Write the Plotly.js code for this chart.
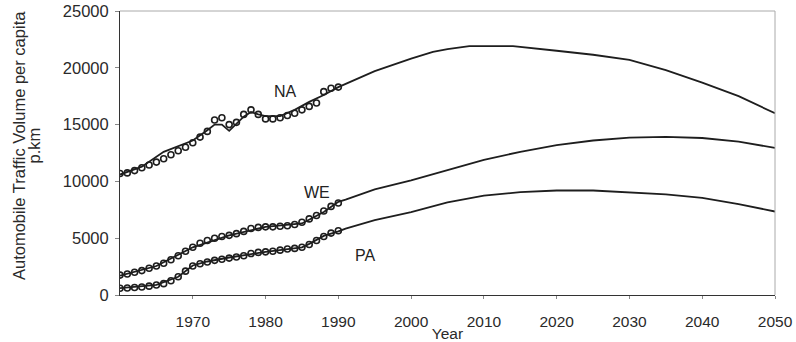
<!DOCTYPE html>
<html>
<head>
<meta charset="utf-8">
<script src="https://cdn.plot.ly/plotly-3.0.1.min.js"></script>
<style>html,body{margin:0;padding:0;background:#fff;}#chart{width:796px;height:342px;}</style>
</head>
<body>
<div id="chart"></div>
<script>
// Observed years
const obsYears = [1960,1961,1962,1963,1964,1965,1966,1967,1968,1969,1970,1971,1972,1973,1974,1975,1976,1977,1978,1979,1980,1981,1982,1983,1984,1985,1986,1987,1988,1989,1990];
const naObs = [10700,10750,10950,11200,11450,11700,12000,12350,12700,13000,13400,13900,14400,15400,15600,15000,15200,15900,16300,15900,15500,15500,15600,15800,16000,16300,16600,16900,17900,18200,18300];
const weObs = [1750,1850,2000,2150,2350,2550,2800,3100,3450,3850,4200,4550,4800,5000,5150,5250,5400,5600,5850,5950,6000,6000,6050,6100,6200,6400,6700,7000,7400,7800,8100];
const paObs = [600,620,660,700,780,880,1000,1250,1600,2100,2550,2750,2900,3050,3150,3250,3350,3450,3650,3750,3800,3850,3950,4050,4100,4200,4450,4800,5150,5450,5650];

// Model curves
const naModelYears = [1960,1963,1966,1970,1972,1973,1974,1975,1977,1978,1979,1980,1982,1984,1986,1988,1990,1995,2000,2003,2005,2008,2010,2014,2020,2025,2030,2035,2040,2045,2050];
const naModel = [10600,11300,12600,13600,14500,15000,15000,14450,15700,16100,15900,15750,15750,16300,17000,17600,18300,19700,20800,21400,21650,21900,21900,21900,21500,21150,20700,19800,18700,17500,16000];
const weModelYears = [1960,1965,1970,1975,1980,1985,1988,1990,1991,1995,2000,2005,2010,2015,2020,2025,2030,2035,2040,2045,2050];
const weModel = [1700,2550,4200,5250,6000,6300,7300,8200,8400,9300,10100,11000,11900,12600,13200,13600,13850,13920,13820,13500,12950];
const paModelYears = [1960,1965,1968,1970,1972,1975,1980,1985,1986,1988,1990,1991,1995,2000,2005,2010,2015,2020,2025,2030,2035,2040,2045,2050];
const paModel = [600,900,1600,2600,2950,3300,3800,4200,4500,5200,5600,5850,6600,7300,8150,8750,9050,9200,9200,9050,8850,8550,8000,7350];

// Series labels
const labelText = ["NA","WE","PA"];
const labelX = [1982.8,1987.1,1993.7];
const labelY = [17900,9000,3500];

const xTicks = [1970,1980,1990,2000,2010,2020,2030,2040,2050];
const yTicks = [0,5000,10000,15000,20000,25000];

const FONT = 'Liberation Sans, Arial, sans-serif';
const lineStyle = {color:'#1e1e1e', width:1.8};
const markerStyle = {symbol:'circle-open', size:6, color:'#1e1e1e', line:{width:1.6, color:'#1e1e1e'}};

const traces = [
  {x:naModelYears, y:naModel, mode:'lines', line:lineStyle, hoverinfo:'skip'},
  {x:weModelYears, y:weModel, mode:'lines', line:lineStyle, hoverinfo:'skip'},
  {x:paModelYears, y:paModel, mode:'lines', line:lineStyle, hoverinfo:'skip'},
  {x:obsYears, y:naObs, mode:'markers', marker:markerStyle},
  {x:obsYears, y:weObs, mode:'markers', marker:markerStyle},
  {x:obsYears, y:paObs, mode:'markers', marker:markerStyle}
];

const annotations = labelText.map((t,i)=>({
  x:labelX[i], y:labelY[i], xref:'x', yref:'y', text:t, showarrow:false,
  font:{family:FONT, size:16, color:'#222'}
}));
annotations.push({
  xref:'paper', yref:'paper', x:-0.154, y:0.525, xanchor:'center', yanchor:'middle',
  text:'Automobile Traffic Volume per capita', textangle:-90, showarrow:false,
  font:{family:FONT, size:16.5, color:'#2a2a2a'}
});
annotations.push({
  xref:'paper', yref:'paper', x:-0.132, y:0.525, xanchor:'center', yanchor:'middle',
  text:'p.km', textangle:-90, showarrow:false,
  font:{family:FONT, size:16.5, color:'#2a2a2a'}
});

const layout = {
  width:796, height:342,
  margin:{l:120, r:21, t:11, b:47},
  paper_bgcolor:'#fff', plot_bgcolor:'#fff',
  showlegend:false,
  font:{family:FONT, size:16, color:'#2a2a2a'},
  xaxis:{
    range:[1960,2050], tickvals:xTicks, ticktext:xTicks.map(String),
    showgrid:false, zeroline:false, showline:true, linecolor:'#333', linewidth:1,
    ticks:'outside', ticklen:3, tickcolor:'#888', ticklabelstandoff:9,
    tickfont:{size:15.5},
    title:{text:'Year', font:{size:15.5, color:'#2a2a2a'}, standoff:0}
  },
  yaxis:{
    range:[0,25000], tickvals:yTicks, ticktext:yTicks.map(String),
    showgrid:false, zeroline:false, showline:true, linecolor:'#333', linewidth:1,
    ticks:'outside', ticklen:4, tickcolor:'#888', ticklabelstandoff:3,
    tickfont:{size:16.5}
  },
  shapes:[
    {type:'line', xref:'paper', yref:'paper', x0:0, x1:1, y0:1, y1:1, line:{color:'#aaa', width:1}},
    {type:'line', xref:'paper', yref:'paper', x0:1, x1:1, y0:0, y1:1, line:{color:'#aaa', width:1}}
  ],
  annotations:annotations
};

Plotly.newPlot('chart', traces, layout, {displayModeBar:false, staticPlot:true});
</script>
</body>
</html>
